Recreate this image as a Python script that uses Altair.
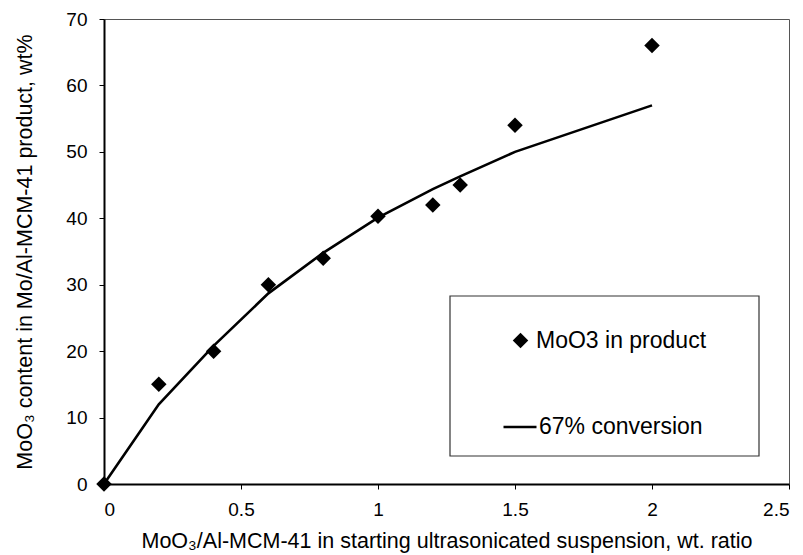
import altair as alt
import pandas as pd

# data
ratio = [0, 0.2, 0.4, 0.6, 0.8, 1.0, 1.2, 1.3, 1.5, 2.0]
moo3_product = [0, 15, 20, 30, 34, 40.3, 42, 45, 54, 66]
conversion_67 = [0, 12, 20.8, 28.7, 34.8, 40.1, 44.4, 46.3, 50, 57]
series_names = ["MoO3 in product", "67% conversion"]
x_ticks = [0, 0.5, 1, 1.5, 2, 2.5]
y_ticks = [0, 10, 20, 30, 40, 50, 60, 70]

df_pts = pd.DataFrame({"ratio": ratio, "value": moo3_product, "series": series_names[0]})
df_line = pd.DataFrame({"ratio": ratio, "value": conversion_67, "series": series_names[1]})
df_box = pd.DataFrame({"box": [0]})

FONT = "Liberation Sans"

x_enc = alt.X(
    "ratio:Q",
    scale=alt.Scale(domain=[0, 2.5], nice=False),
    axis=alt.Axis(
        values=x_ticks,
        labelExpr="datum.value",
        title="MoO₃/Al-MCM-41 in starting ultrasonicated suspension, wt. ratio",
        titleBaseline="middle",
        titleY=57,
        labelPadding=11,
    ),
)
y_enc = alt.Y(
    "value:Q",
    scale=alt.Scale(domain=[0, 70], nice=False),
    axis=alt.Axis(
        values=y_ticks,
        title="MoO₃ content in Mo/Al-MCM-41 product, wt%",
        titleBaseline="middle",
        titleX=-79,
        labelPadding=12,
    ),
)

box = alt.Chart(df_box).mark_rect(fill="white", stroke="#333333", strokeWidth=1.2).encode(
    x=alt.value(346), x2=alt.value(655), y=alt.value(277), y2=alt.value(437)
)

line = alt.Chart(df_line).mark_line(strokeWidth=2.6).encode(
    x=x_enc,
    y=y_enc,
    color=alt.Color(
        "series:N",
        scale=alt.Scale(domain=[series_names[1]], range=["black"]),
        legend=alt.Legend(
            title=None,
            orient="none",
            legendX=398,
            legendY=390,
            padding=0,
            labelFont=FONT,
            labelFontSize=23,
            labelColor="black",
            labelOffset=1,
            labelLimit=400,
            symbolType="stroke",
            symbolSize=1089,
            symbolStrokeWidth=2.6,
            symbolStrokeColor="black",
        ),
    ),
)

points = alt.Chart(df_pts).mark_point(filled=True, color="black", opacity=1, size=240).encode(
    x=x_enc,
    y=y_enc,
    shape=alt.Shape(
        "series:N",
        scale=alt.Scale(domain=[series_names[0]], range=["diamond"]),
        legend=alt.Legend(
            title=None,
            orient="none",
            legendX=405,
            legendY=310,
            padding=0,
            labelFont=FONT,
            labelFontSize=23,
            labelColor="black",
            labelOffset=4,
            labelLimit=400,
            symbolSize=240,
            symbolFillColor="black",
        ),
    ),
)

chart = (
    alt.layer(box, line, points)
    .properties(
        width=685,
        height=465,
        padding={"left": 96, "top": 11, "right": 6, "bottom": 70},
        autosize=alt.AutoSizeParams(type="none"),
    )
    .configure_view(stroke="#555555", strokeWidth=1)
    .configure_axis(
        grid=False,
        domainColor="black",
        domainWidth=2,
        tickColor="black",
        tickSize=5,
        tickWidth=1,
        labelFont=FONT,
        labelFontSize=19,
        labelColor="black",
        titleFont=FONT,
        titleFontSize=21.5,
        titleFontWeight="normal",
        titleColor="black",
    )
)

chart.save("out.html", embed_options={"renderer": "svg", "actions": False})
